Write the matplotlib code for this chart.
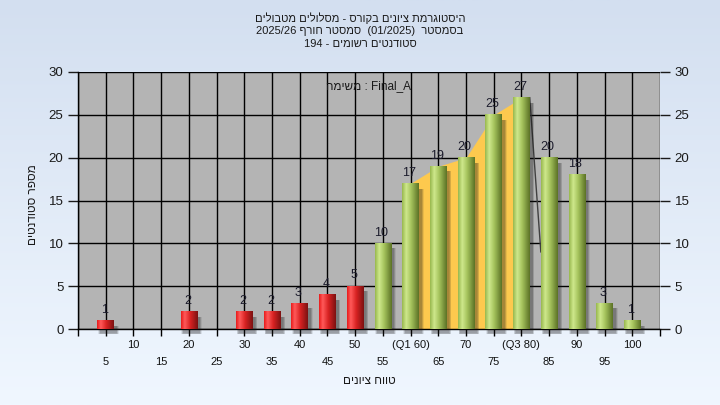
import numpy as np
import matplotlib
matplotlib.use("Agg")
import matplotlib.pyplot as plt
from matplotlib.colors import LinearSegmentedColormap

plt.rcParams["font.family"] = ["Liberation Sans", "DejaVu Sans"]

grades = [5, 10, 15, 20, 25, 30, 35, 40, 45, 50,
          55, 60, 65, 70, 75, 80, 85, 90, 95, 100]
counts = [1, 0, 0, 2, 0, 2, 2, 3, 4, 5,
          10, 17, 19, 20, 25, 27, 20, 18, 3, 1]
q1, q3 = 60, 80
pass_grade = 55

title_lines = [
    "היסטוגרמת ציונים בקורס - מסלולים מטבולים",
    "בסמסטר  (01/2025)  סמסטר חורף 2025/26",
    "סטודנטים רשומים - 194",
]
inner_label = "Final_A : משימה"
xlabel = "טווח ציונים"
ylabel = "מספר סטודנטים"


def rtl(text):
    # crude bidi: flip the token order and the hebrew words
    out = []
    for tok in text.split(" ")[::-1]:
        if any("\u0590" <= c <= "\u05ff" for c in tok):
            tok = tok[::-1]
        out.append(tok)
    return " ".join(out)


red_cmap = LinearSegmentedColormap.from_list(
    "red", [(0, "#e81c1c"), (0.22, "#ff5a5a"), (0.55, "#d82222"), (1, "#7c1212")])
green_cmap = LinearSegmentedColormap.from_list(
    "green", [(0, "#98b84e"), (0.25, "#cfe88c"), (0.55, "#a4c25c"), (1, "#5c7226")])

fig = plt.figure(figsize=(7.2, 4.05), dpi=100)

# background gradient
bg = fig.add_axes([0, 0, 1, 1], zorder=-5)
bg_cmap = LinearSegmentedColormap.from_list("bg", ["#d3dff0", "#f0f7ff"])
bg.imshow(np.linspace(0, 1, 256).reshape(-1, 1), cmap=bg_cmap,
          aspect="auto", extent=[0, 1, 0, 1])
bg.axis("off")

ax = fig.add_axes([78 / 720, 1 - 329 / 405, 582 / 720, 257 / 405])
ax.set_facecolor("#b4b4b4")

x = np.arange(1, len(grades) + 1)
width = 0.6

# yellow inter-quartile area
i1, i3 = grades.index(q1), grades.index(q3)
ax.fill_between(x[i1:i3 + 1], 0, counts[i1:i3 + 1], color="#fdc94e", zorder=2, lw=0)
ax.plot([x[i3] + 0.3, x[i3] + 0.7], [counts[i3], 9], color="#404040", lw=1, zorder=2)

grad = np.linspace(0, 1, 64).reshape(1, -1)
for xi, g, c in zip(x, grades, counts):
    if c == 0:
        continue
    # soft shadow, a few translucent layers
    for k in range(5):
        grow = 0.035 * k
        ax.add_patch(plt.Rectangle((xi - width / 2 + 0.1 - grow / 2, -0.5 - grow),
                                   width + grow, c - 0.1 + grow, color="#1a1a1a",
                                   alpha=0.09, lw=0, zorder=3, clip_on=False))
    cmap = red_cmap if g < pass_grade else green_cmap
    ax.imshow(grad, cmap=cmap, aspect="auto", zorder=4,
              extent=[xi - width / 2, xi + width / 2, 0, c])
    ax.text(xi - 0.05, c + 0.55, str(c), ha="center", va="bottom",
            fontsize=9, color="#1c1c2c", zorder=6)

ax.set_xlim(0, len(grades) + 1)
ax.set_ylim(0, 30)
ax.set_xticks(np.arange(0, len(grades) + 2))
ax.set_xticklabels([])
ax.set_yticks(range(0, 31, 5))
ax.grid(True, color="black", lw=1, zorder=1)
ax.set_axisbelow(True)
ax.tick_params(axis="y", which="both", direction="out", length=7, width=1,
               labelsize=9.5, right=True, labelright=True, colors="#1a1a1a")
ax.tick_params(axis="x", direction="out", length=5, width=1)
for s in ["top", "right"]:
    ax.spines[s].set_visible(False)
ax.spines["left"].set_linewidth(1)
ax.spines["bottom"].set_linewidth(1)

# staggered category labels
trans = ax.get_xaxis_transform()
for i, (xi, g) in enumerate(zip(x, grades)):
    if g == q1:
        lab = f"(Q1 {g})"
    elif g == q3:
        lab = f"(Q3 {g})"
    else:
        lab = str(g)
    yy = -0.062 if i % 2 == 1 else -0.128
    ax.text(xi, yy, lab, transform=trans, ha="center", va="center",
            fontsize=8, color="#111111")

ax.text(0.5, 0.945, rtl(inner_label), transform=ax.transAxes, ha="center",
        va="center", fontsize=8.5, color="#1a1a1a")

for k, line in enumerate(title_lines):
    fig.text(0.5, 1 - (18 + 13 * k) / 405, rtl(line), ha="center", va="center",
             fontsize=8, color="#1a1a1a")

fig.text(369 / 720, 1 - 381 / 405, rtl(xlabel), ha="center", va="center",
         fontsize=8.5, color="#1a1a1a")
fig.text(33 / 720, 1 - 205 / 405, rtl(ylabel), ha="center", va="center",
         rotation=90, fontsize=8.5, color="#1a1a1a")

fig.savefig("out.png", dpi=100)
